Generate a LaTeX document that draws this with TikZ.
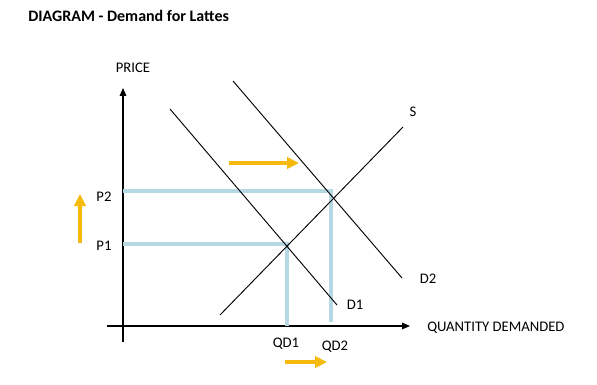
\documentclass[tikz,border=0pt]{standalone}
\usepackage{fontspec}
\setmainfont{Carlito}
\usetikzlibrary{arrows.meta}
\definecolor{paleblue}{RGB}{182,216,227}
\definecolor{gold}{RGB}{245,186,12}
\tikzset{
  axis/.style={-{Triangle[length=6pt,width=5pt]}, line width=0.8pt},
  curve/.style={line width=0.7pt},
  guide/.style={paleblue, line width=3pt},
  shiftarrow/.style={gold, line width=3pt, -{Triangle[length=9pt,width=8.5pt]}},
  lbl/.style={font=\fontsize{11}{13}\selectfont, inner sep=0pt}
}
\begin{document}
\begin{tikzpicture}[x=0.75pt,y=-0.75pt]
\useasboundingbox (0,0) rectangle (597,385);

\node[anchor=west, font=\bfseries\fontsize{12}{14}\selectfont, inner sep=0pt] (title) at (28,16) {DIAGRAM - Demand for Lattes};

% axes
\coordinate (ytop) at (123,88);
\coordinate (ybot) at (123,342);
\coordinate (xleft) at (107,326);
\coordinate (xright) at (410,326);
\draw[axis] (ybot) -- (ytop);
\draw[axis] (xleft) -- (xright);
\node[lbl] (price) at (133,68) {PRICE};
\node[lbl, anchor=west] (qty) at (427,328) {QUANTITY DEMANDED};

% equilibrium points and guide lines
\coordinate (E1) at (287,244);
\coordinate (E2) at (331,191);
\coordinate (p1) at (123,244);
\coordinate (p2) at (123,191);
\coordinate (q1) at (287,326);
\coordinate (q2) at (331,322);
\draw[guide] (p1) -- (E1) -- (q1);
\draw[guide] (p2) -- (E2) -- (q2);

% supply and demand
\coordinate (d1a) at (170,109);
\coordinate (d1b) at (337,305);
\coordinate (d2a) at (233,81);
\coordinate (d2b) at (402,278);
\coordinate (sa) at (220,315);
\coordinate (sb) at (403,127);
\draw[curve] (d1a) -- (d1b);
\draw[curve] (d2a) -- (d2b);
\draw[curve] (sa) -- (sb);

\node[lbl] (d1) at (355,305) {D1};
\node[lbl] (d2) at (428,279) {D2};
\node[lbl] (s) at (413,112) {S};
\node[lbl] (P1) at (104,246) {P1};
\node[lbl] (P2) at (104,197) {P2};
\node[lbl] (QD1) at (286,344) {QD1};
\node[lbl] (QD2) at (335,347) {QD2};

% shifts
\coordinate (ra) at (229,163);
\coordinate (rb) at (299,163);
\coordinate (ua) at (80,243);
\coordinate (ub) at (80,194);
\coordinate (qa) at (285,362);
\coordinate (qb) at (327,362);
\draw[shiftarrow] (ra) -- (rb);
\draw[shiftarrow] (ua) -- (ub);
\draw[shiftarrow] (qa) -- (qb);
\end{tikzpicture}
\end{document}
